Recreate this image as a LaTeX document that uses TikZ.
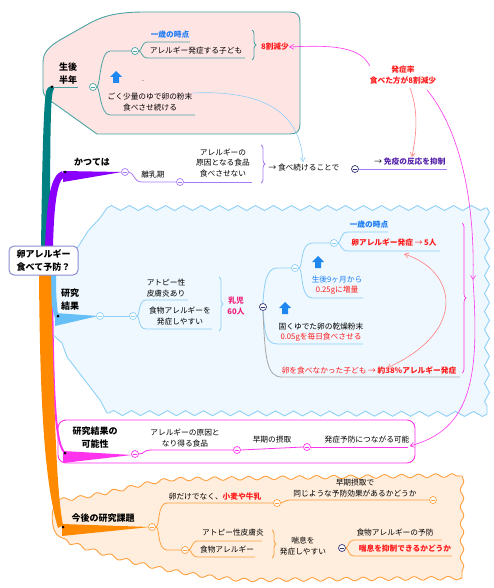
\documentclass[tikz,border=0pt]{standalone}
\usepackage{fontspec}
\newfontfamily\jp{Noto Sans CJK JP}
\usetikzlibrary{arrows.meta,decorations.pathreplacing,decorations.pathmorphing}
\definecolor{tealline}{HTML}{4BA3A3}
\definecolor{tealbr}{HTML}{008080}
\definecolor{pinkbg}{HTML}{FFE4E4}
\definecolor{purbr}{HTML}{8A00FF}
\definecolor{purline}{HTML}{A77BF3}
\definecolor{lbbr}{HTML}{66BFF7}
\definecolor{lbline}{HTML}{8FD0F7}
\definecolor{lbbg}{HTML}{EEF8FE}
\definecolor{magline}{HTML}{FF33EE}
\definecolor{orbr}{HTML}{FF8A00}
\definecolor{orline}{HTML}{FFA040}
\definecolor{orbg}{HTML}{FFEEDD}
\definecolor{bluetxt}{HTML}{1C7CF4}
\definecolor{redtxt}{HTML}{FF1A1A}
\definecolor{pinktxt}{HTML}{F0207A}
\definecolor{navy}{HTML}{333377}
\definecolor{salmon}{HTML}{FF8080}
\definecolor{iconblue}{HTML}{1E88F0}
\definecolor{centerln}{HTML}{8C8CD0}
\definecolor{grayln}{HTML}{A8A8A8}
\definecolor{purtxt}{HTML}{5522AA}
\tikzset{
 txt/.style={font=\jp\fontsize{7.7}{10.5}\selectfont, align=center, inner sep=0pt},
 txtb/.style={font=\jp\bfseries\fontsize{7.7}{10.5}\selectfont, align=center, inner sep=0pt},
 hd/.style={font=\jp\bfseries\fontsize{9}{13}\selectfont, align=center, inner sep=0pt},
 cc/.style={circle, draw=#1, fill=white, line width=0.7pt, minimum size=7pt, inner sep=0pt,
   path picture={\draw[#1, line width=0.6pt] ([xshift=-1.6pt]path picture bounding box.center) -- ([xshift=1.6pt]path picture bounding box.center);}},
 cc/.default=black,
 bdot/.style={circle, fill=black, minimum size=3pt, inner sep=0pt},
 rel/.style={-{Straight Barb[length=4pt,width=5pt]}, line width=0.6pt},
 ln/.style={line width=0.8pt},
 brc/.style={decorate, decoration={brace, amplitude=4pt}, line width=0.8pt},
 uparrow/.pic={\fill[iconblue] (0,-6) -- (6,0) -- (3,0) -- (3,6) -- (-3,6) -- (-3,0) -- (-6,0) -- cycle;},
}
\begin{document}
\begin{tikzpicture}[x=1pt,y=-1pt]
\useasboundingbox (0,0) rectangle (494,588);
% ---------- regions
\filldraw[fill=pinkbg, draw=tealline, line width=0.9pt] (43,62) .. controls (43,52) and (50,46) .. (60,40) -- (90,23) .. controls (105,15) and (120,12) .. (145,12) -- (290,12) .. controls (297,12) and (300,15) .. (300,22) -- (300,124) .. controls (300,131) and (297,134) .. (290,134) -- (97,134) -- (55,104) .. controls (46,98) and (43,96) .. (43,88) -- cycle;
\filldraw[fill=lbbg, draw=lbline, line width=0.9pt, decoration={zigzag, segment length=18pt, amplitude=2.5pt}] (107,208) decorate{ -- (487,208)} decorate{ -- (487,414)} decorate{ -- (107,413)} -- (100,400) -- (67,357) -- (62,343) -- (52,334) -- (52,280) -- (78,247) -- (88,231) -- (100,218) -- cycle;
\filldraw[fill=white, draw=magline, line width=0.9pt, rounded corners=8pt] (58,420) rectangle (415,463);
\filldraw[fill=orbg, draw=orline, line width=0.9pt, decoration={snake, segment length=17pt, amplitude=1.8pt}] (58,500) decorate{ .. controls (100,496) and (130,485) .. (165,480) -- (462,476)} decorate{ -- (462,578)} decorate{ -- (250,580) .. controls (180,575) and (120,560) .. (60,537)} .. controls (50,533) and (50,505) .. (58,500) -- cycle;
% ---------- main branches
\draw[magline, line width=2pt] (52,276) .. controls (53,380) and (54,440) .. (64,452);
\fill[tealbr] (41,247) .. controls (42,180) and (43,110) .. (46,92) .. controls (47,88) and (49,86) .. (53,86) -- (54,89) .. controls (51,92) and (50,110) .. (50,247) -- cycle;
\fill[purbr] (45,247) .. controls (47,200) and (50,176) .. (62,171) -- (64,177) .. controls (57,182) and (54,205) .. (53,247) -- cycle;
\fill[lbbr] (48,275) .. controls (50,295) and (52,310) .. (55,318) -- (58,314) .. controls (56,300) and (56,285) .. (56,275) -- cycle;
\fill[orbr] (39,275) .. controls (40,400) and (44,480) .. (58,528) -- (63,525) .. controls (56,490) and (54,400) .. (51,275) -- cycle;
% wedges
\fill[purbr] (63,171) -- (63,182) -- (122,172) -- cycle;
\fill[lbbr] (55,313) -- (55,326) -- (98,316) -- cycle;
\fill[magline] (63,451) -- (63,463) -- (132,455) -- cycle;
\fill[orbr] (62,524) -- (62,536) -- (150,527) -- cycle;
% central node
\node[hd, draw=centerln, fill=white, line width=1pt, rounded corners=5pt, minimum width=69pt, minimum height=29pt] (root) at (43.5,260.5) {卵アレルギー\\食べて予防？};
% dots
\node[bdot] (d1) at (52,87) {};
\node[bdot] (d2) at (65,172) {};
\node[bdot] (d3) at (58,316) {};
\node[bdot] (d4) at (65,453) {};
\node[bdot] (d5) at (63,527) {};
% ---------- 生後半年
\node[hd] (h1) at (68,74) {生後\\半年};
\draw[tealline, ln] (d1) -- (78,87);
\node[cc=tealline] (c11) at (93,87) {};
\draw[tealline, ln] (c11.east) .. controls (100,87) and (100,51) .. (110,51) -- (131.5,51);
\draw[tealline, ln] (c11.east) .. controls (100,87) and (100,115) .. (110,115) -- (195,115);
\node[cc=tealline] (c12) at (135,51) {};
\draw[tealline, ln] (c12.east) .. controls (142,51) and (141,42) .. (148,42) -- (190,42);
\draw[tealline, ln] (c12.east) .. controls (142,51) and (141,58) .. (148,58) -- (245,58);
\node[txtb, text=bluetxt] (n11) at (170,35) {一歳の時点};
\node[txt] (n12) at (196,51) {アレルギー発症する子ども};
\draw[tealline, brc] (252,30) -- (252,60);
\node[txtb, text=redtxt] (n13) at (275,47) {8割減少};
\pic at (116,77) {uparrow};
\node[txt, font=\jp\fontsize{5}{6}\selectfont] (n14) at (143,82) {-};
\node[txt] (n15) at (150,102) {ごく少量のゆで卵の粉末\\食べさせ続ける};
% ---------- かつては
\node[hd] (h2) at (92,162) {かつては};
\node[cc=purline] (c21) at (125,172) {};
\draw[purline, ln] (c21.east) .. controls (134,172) and (133,182) .. (142,182) -- (176.5,182);
\node[cc=purline] (c22) at (180,182) {};
\draw[purline, ln] (c22.east) -- (252,182);
\node[txt] (n21) at (153,175) {離乳期};
\node[txt] (n22) at (223,163) {アレルギーの\\原因となる食品\\食べさせない};
\draw[purline, brc] (261,145) -- (261,183);
\node[txt] (n23) at (304,168) {→ 食べ続けることで};
\node[cc=navy] (c23) at (355,169) {};
\draw[purline, ln] (c23.east) -- (447,169);
\node[txt] (n24) at (410,162) {→ {\bfseries\color{purtxt}免疫の反応を抑制}};
% ---------- 研究結果
\node[hd] (h3) at (70,300) {研究\\結果};
\node[cc=lbline] (c31) at (100,316) {};
\node[cc=lbline] (c32) at (133,316) {};
\draw[lbline, ln] (c31) -- (c32);
\draw[lbline, ln] (c32.east) .. controls (140,316) and (138,300) .. (146,300) -- (188,300);
\draw[lbline, ln] (c32.east) .. controls (140,316) and (138,329) .. (146,329) -- (212,329);
\node[txt] (n31) at (166,288) {アトピー性\\皮膚炎あり};
\node[txt] (n32) at (180,316) {食物アレルギーを\\発症しやすい};
\draw[lbline, brc] (219,277) -- (219,331);
\node[txtb, text=pinktxt] (n33) at (236,306) {乳児\\60人};
\node[cc=navy] (c33) at (263,307) {};
\draw[lbline, ln] (c33.north) .. controls (264,285) and (266,268) .. (277,268) -- (291.5,268);
\draw[lbline, ln] (c33.south) .. controls (265,335) and (266,344) .. (278,344) -- (363,344);
\draw[grayln, ln] (c33.south) .. controls (265,360) and (267,377) .. (282,377) -- (460,377);
\node[cc=lbline] (c34) at (295,268) {};
\draw[lbline, ln] (c34.east) .. controls (303,268) and (300,243) .. (312,243) -- (330.5,243);
\draw[lbline, ln] (c34.east) .. controls (303,268) and (300,298) .. (312,298) -- (363,298);
\node[cc=lbline] (c35) at (334,243) {};
\draw[lbline, ln] (c35.east) .. controls (341,243) and (340,232) .. (348,232) -- (388,232);
\draw[lbline, ln] (c35.east) .. controls (341,243) and (340,251) .. (348,251) -- (440,251);
\node[txtb, text=bluetxt] (n34) at (369,225) {一歳の時点};
\node[txtb, text=redtxt] (n35) at (394,243) {卵アレルギー発症 {\mdseries →} 5人};
\pic at (318,262) {uparrow};
\node[txt] (n36) at (337,285) {{\color{bluetxt}生後9ヶ月から}\\{\color{redtxt}0.25gに増量}};
\pic at (285,308) {uparrow};
\node[txt] (n37) at (321,332) {固くゆでた卵の乾燥粉末\\{\color{redtxt}0.05gを毎日食べさせる}};
\node[txt, text=redtxt] (n38) at (369,370) {卵を食べなかった子ども → {\bfseries 約38\%アレルギー発症}};
\draw[magline, brc, line width=0.7pt] (462,223) -- (462,373);
% ---------- 研究結果の可能性
\node[hd] (h4) at (95,438) {研究結果の\\可能性};
\node[cc=magline] (c41) at (135,454) {};
\node[cc=magline] (c42) at (237,450) {};
\node[cc=magline] (c43) at (307,447) {};
\draw[magline, ln] (c41.east) .. controls (145,454) and (142,450) .. (152,450) -- (c42.west);
\draw[magline, ln] (c42.east) -- (c43.west);
\draw[magline, ln] (c43.east) -- (408,447);
\node[txt] (n41) at (185,438) {アレルギーの原因と\\なり得る食品};
\node[txt] (n42) at (272,440) {早期の摂取};
\node[txt] (n43) at (367,440) {発症予防につながる可能};
% ---------- 今後の研究課題
\node[hd] (h5) at (103,518) {今後の研究課題};
\node[cc=orline] (c51) at (152,527) {};
\node[cc=orline] (c52) at (277,503) {};
\node[cc=orline] (c53) at (433,500) {};
\node[cc=orline] (c54) at (185,550) {};
\node[cc=navy] (c55) at (342,548) {};
\draw[orline, ln] (c51.east) .. controls (160,527) and (157,503) .. (167,503) -- (c52.west);
\draw[orline, ln] (c52.east) .. controls (285,503) and (283,500) .. (291,500) -- (c53.west);
\draw[orline, ln] (c51.east) .. controls (160,527) and (157,550) .. (167,550) -- (c54.west);
\draw[orline, ln] (c54.east) .. controls (192,550) and (191,541) .. (198,541) -- (262,541);
\draw[orline, ln] (c54.east) .. controls (192,550) and (191,557) .. (198,557) -- (255,557);
\draw[orline, ln] (c55.east) .. controls (349,548) and (347,540) .. (355,540) -- (442,540);
\draw[orline, ln] (c55.east) .. controls (349,548) and (347,556) .. (355,556) -- (452,556);
\node[txt] (n51) at (215,497) {卵だけでなく、{\bfseries\color{redtxt}小麦や牛乳}};
\node[txt] (n52) at (355,488) {早期摂取で\\同じような予防効果があるかどうか};
\node[txt] (n53) at (233,533) {アトピー性皮膚炎};
\node[txt] (n54) at (227,550) {食物アレルギー};
\draw[orline, brc] (272,530) -- (272,558);
\node[txt] (n55) at (303,546) {喘息を\\発症しやすい};
\node[txt] (n56) at (395,533) {食物アレルギーの予防};
\node[txtb, text=redtxt] (n57) at (405,549) {喘息を抑制できるかどうか};
% ---------- relationships
\node[txtb, text=redtxt] (r1) at (403,75) {発症率\\食べた方が8割減少};
\draw[magline, rel] (r1.north west) .. controls (360,46) and (330,45) .. (n13.east);
\draw[salmon, rel] (410,88) .. controls (420,115) and (415,140) .. (412,157);
\draw[lbline, rel] (n15.north east) .. controls (260,90) and (300,110) .. (303,162);
\coordinate (m1) at (473,280);
\draw[magline, rel] (427,90) .. controls (460,130) and (475,200) .. (m1);
\draw[magline, rel] (m1) .. controls (480,380) and (470,430) .. (n43.east |- 0,446);
\draw[salmon, {Straight Barb[length=4pt,width=5pt]}-{Straight Barb[length=4pt,width=5pt]}, line width=0.6pt] (404,254) .. controls (455,270) and (470,330) .. (387,368);
\end{tikzpicture}
\end{document}
